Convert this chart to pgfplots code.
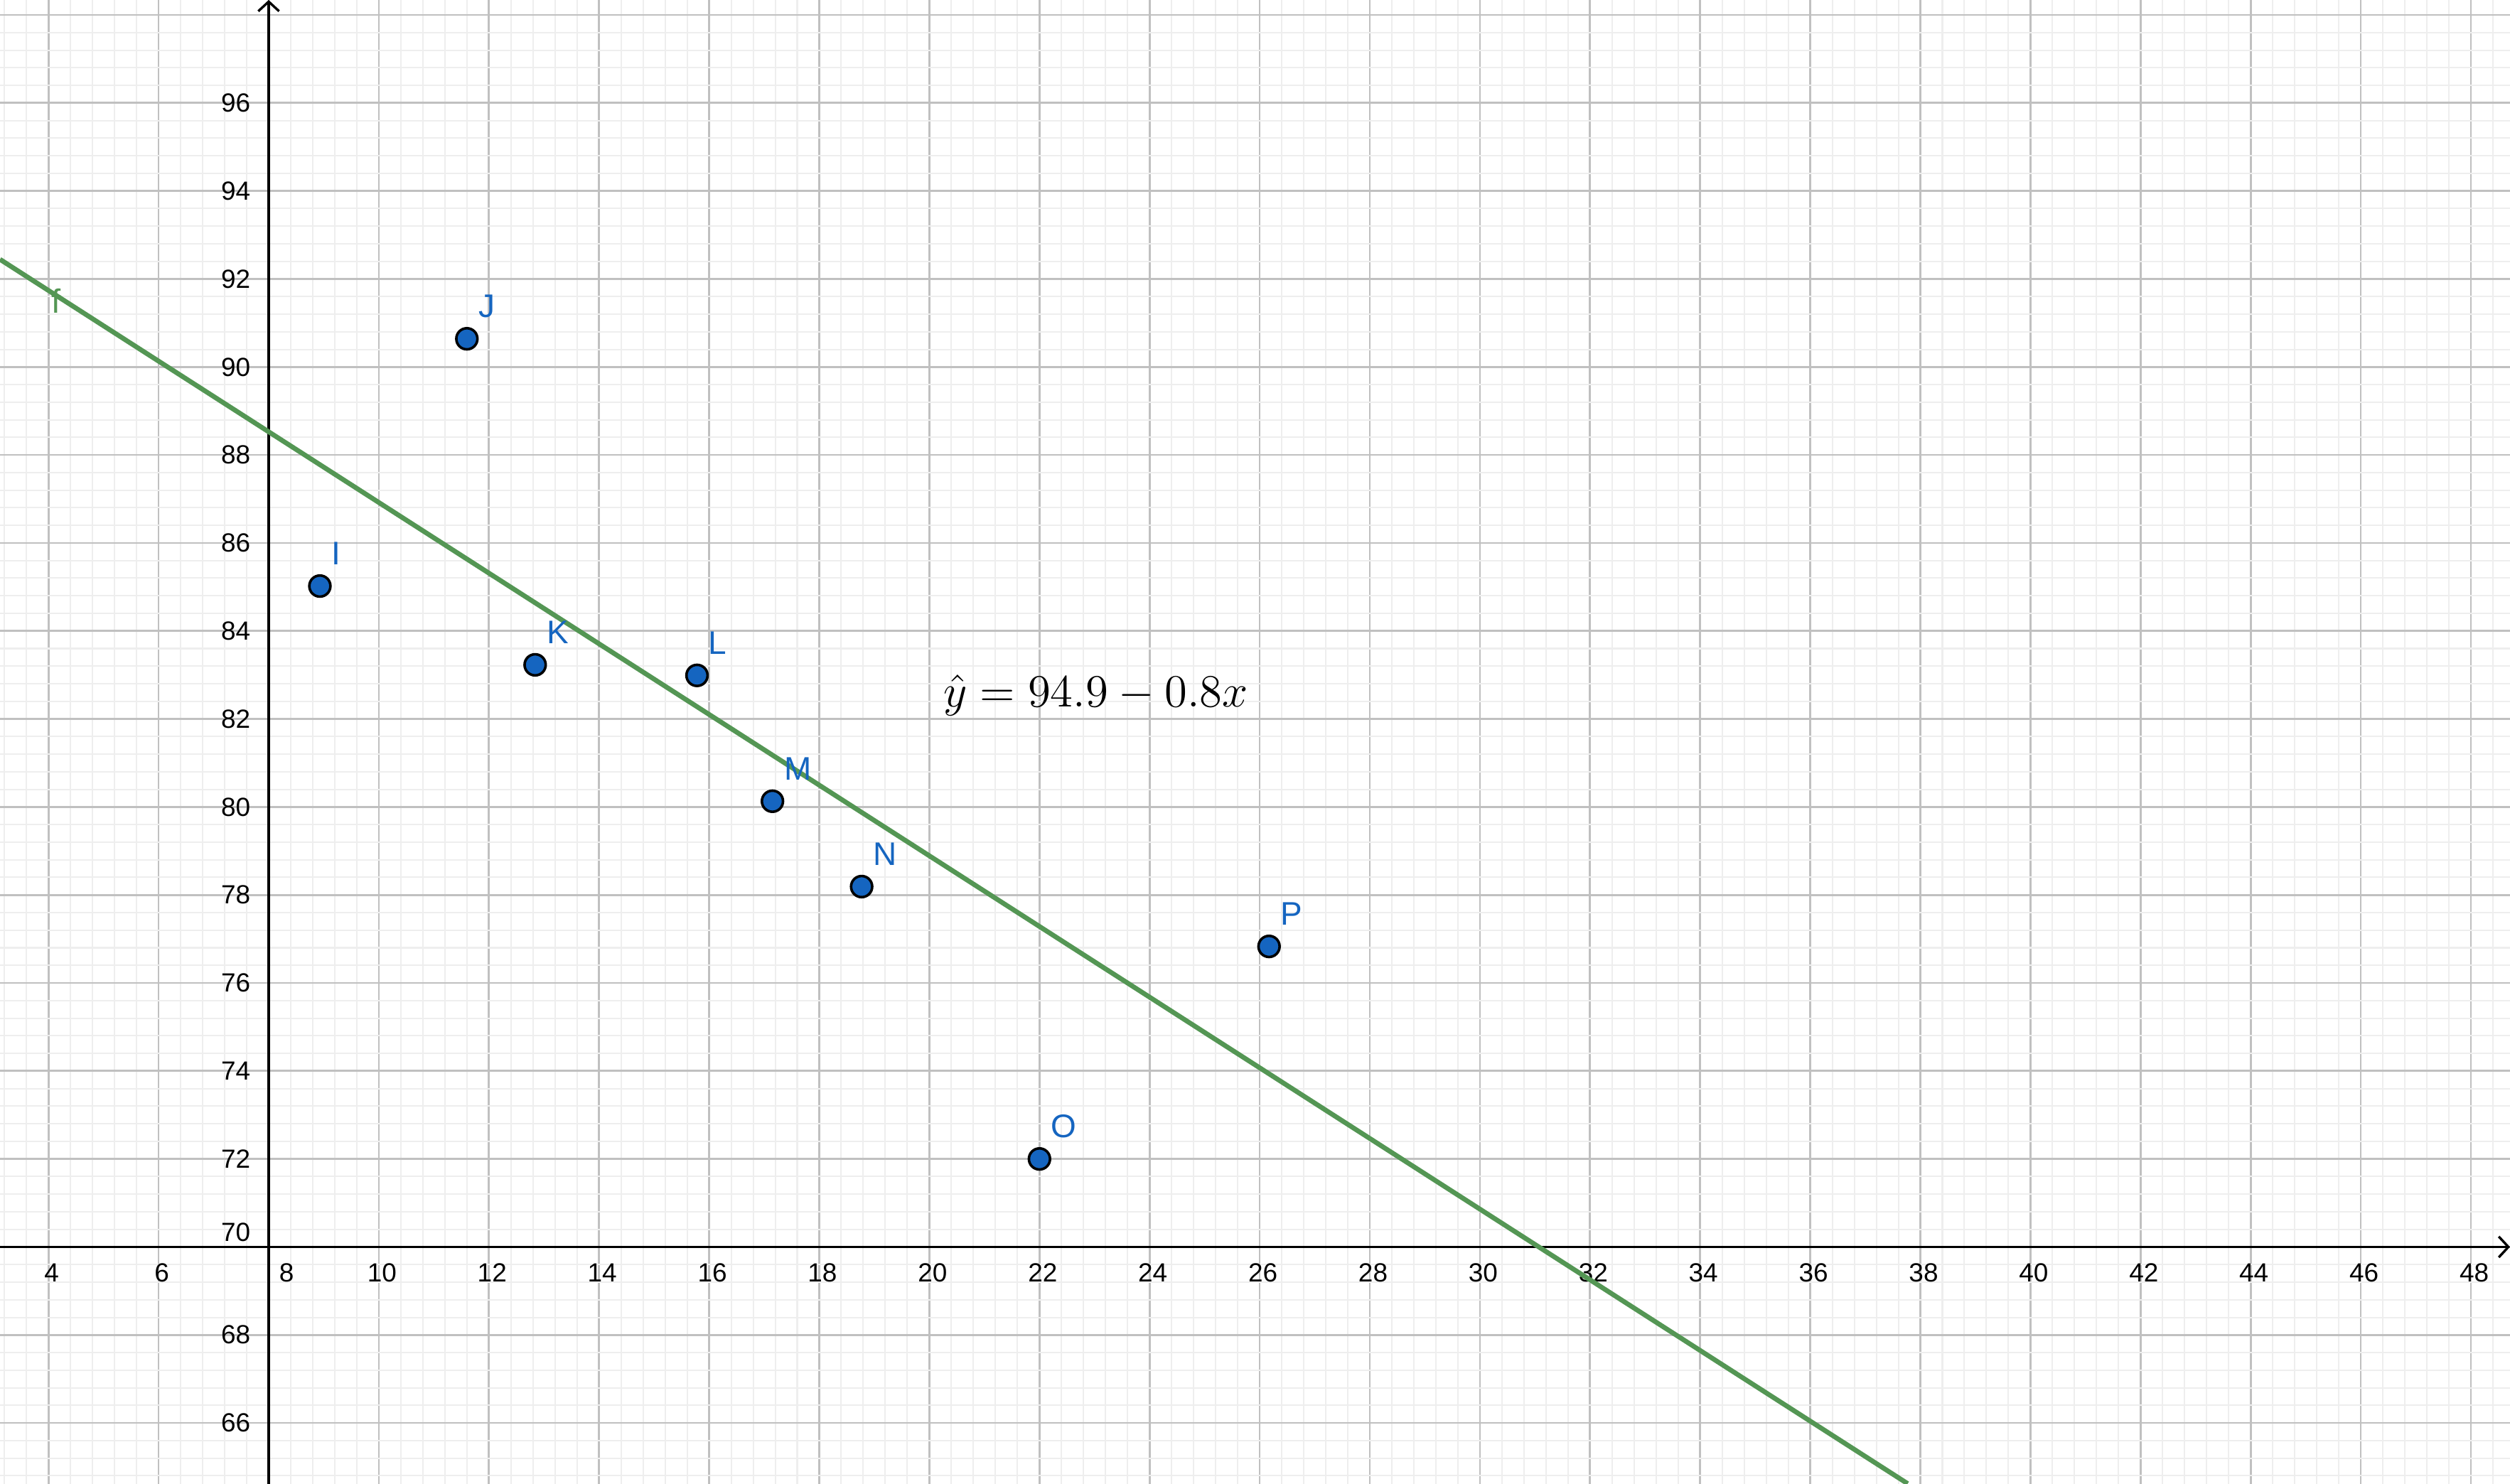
\documentclass[border=0pt]{standalone}
\usepackage[no-math]{fontspec}
\setmainfont{Liberation Sans}
\usepackage{pgfplots}
\pgfplotsset{compat=1.18}
\usetikzlibrary{arrows.meta}
\definecolor{ggblue}{RGB}{21,101,192}
\definecolor{fgreen}{RGB}{84,150,84}
\definecolor{gridmajor}{RGB}{192,192,192}
\definecolor{gridminor}{RGB}{238,238,238}
\begin{document}
\begin{tikzpicture}
\begin{axis}[
  scale only axis,
  width=784pt, height=463.5pt,
  xmin=3.12, xmax=48.71,
  ymin=64.62, ymax=98.34,
  clip=false,
  axis line style={draw=none},
  tick style={draw=none},
  scaled ticks=false,
  /pgf/number format/assume math mode=true,
  xtick={4,6,10,12,14,16,18,20,22,24,26,28,30,32,34,36,38,40,42,44,46,48},
  ytick={66,68,72,74,76,78,80,82,84,86,88,90,92,94,96},
  minor xtick={3.2,3.6,...,48.5},
  minor ytick={64.8,65.2,...,98.3},
  grid=both,
  major grid style={draw=gridmajor, line width=0.6pt},
  minor grid style={draw=gridminor, line width=0.45pt},
  extra x ticks={8},
  extra y ticks={70,98},
  extra y tick labels={70,{}},
  extra x tick style={grid=major, xticklabel style={xshift=4.6pt}},
  extra y tick style={grid=major, yticklabel style={yshift=4.6pt}},
  ticklabel style={font=\fontsize{8.2}{9}\selectfont, text=black},
  xticklabel style={anchor=north, inner sep=0pt, yshift=68.95pt, xshift=1pt},
  yticklabel style={anchor=east, inner sep=0pt, xshift=78.4pt},
]
% axes
\addplot[black, line width=0.75pt, -{Straight Barb[length=3pt,width=6.5pt]}, forget plot]
  coordinates {(3.12,70) (48.71,70)};
\addplot[black, line width=0.75pt, -{Straight Barb[length=3pt,width=6.5pt]}, forget plot]
  coordinates {(8,64.62) (8,98.34)};
% regression line f
\addplot[fgreen, line width=1.5pt, forget plot]
  coordinates {(3.12,92.445) (37.77,64.62)};
% data points
\addplot[only marks, mark=*, mark size=3.3pt,
  mark options={fill=ggblue, draw=black, line width=0.8pt},
  nodes near coords, point meta=explicit symbolic,
  nodes near coords style={anchor=base west, inner sep=0pt, xshift=3.25pt, yshift=6.7pt,
    font=\fontsize{10.2}{12}\selectfont, text=ggblue}]
  table[x=x, y=y, meta=label] {
label x y
I 8.93 85.02
J 11.60 90.64
K 12.84 83.23
L 15.78 82.99
M 17.15 80.13
N 18.77 78.19
O 22.00 72.00
P 26.17 76.83
};
\node[anchor=base west, inner sep=0pt, text=fgreen, font=\fontsize{10.5}{12}\selectfont]
  at (axis cs:4.05,91.23) {f};
\node[anchor=base west, inner sep=0pt, font=\fontsize{13.4}{15}\selectfont]
  at (axis cs:20.25,82.27) {$\hat{y} = 94.9 - 0.8x$};
\end{axis}
\pgfresetboundingbox
\path (current axis.south west) rectangle (current axis.north east);
\end{tikzpicture}
\end{document}
